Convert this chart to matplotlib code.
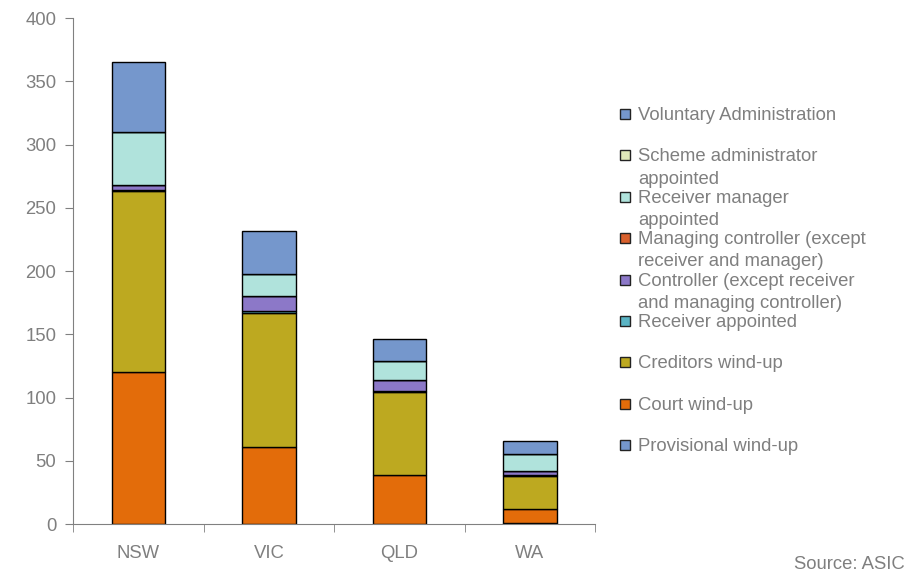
import numpy as np
import matplotlib.pyplot as plt
from matplotlib.patches import Rectangle

plt.rcParams['font.family'] = ['Liberation Sans', 'DejaVu Sans']

# Estados
states = ['NSW', 'VIC', 'QLD', 'WA']

# Series, de abajo hacia arriba en la pila
series = [
    'Provisional wind-up',
    'Court wind-up',
    'Creditors wind-up',
    'Receiver appointed',
    'Controller (except receiver\nand managing controller)',
    'Managing controller (except\nreceiver and manager)',
    'Receiver manager\nappointed',
    'Scheme administrator\nappointed',
    'Voluntary Administration',
]
provisional = [0, 0, 0, 1]
court = [120, 61, 39, 11]
creditors = [143, 106, 65, 26]
receiver = [1, 1, 1, 1]
controller = [4, 12, 9, 3]
managing = [0, 0, 0, 0]
receiver_mgr = [42, 18, 15, 13]
scheme = [0, 0, 0, 0]
voluntary = [55, 34, 17, 11]

values = [provisional, court, creditors, receiver, controller, managing,
          receiver_mgr, scheme, voluntary]
colors = ['#7597cc', '#e36c0a', '#bda920', '#5ab4c4', '#8c78c8', '#d9602c',
          '#b0e3dc', '#dfe8b8', '#7597cc']

fig = plt.figure(figsize=(9.13, 5.72), dpi=100)
ax = fig.add_axes([0.080, 0.0839, 0.572, 0.8846])

x = np.arange(len(states))
bottom = np.zeros(len(states))
for vals, col in zip(values, colors):
    vals = np.array(vals, dtype=float)
    ax.bar(x, vals, 0.41, bottom=bottom, color=col, edgecolor='black', linewidth=1)
    bottom += vals

grey = '#808080'
ax.set_xlim(-0.5, 3.5)
ax.set_ylim(0, 400)
ax.set_yticks(np.arange(0, 401, 50))
ax.set_xticks(x)
ax.set_xticklabels(states)
ax.set_xticks(np.arange(-0.5, 3.6, 1), minor=True)
ax.tick_params(axis='x', which='major', length=0, pad=15, labelsize=13.3, labelcolor='#7f7f7f')
ax.tick_params(axis='x', which='minor', length=6, color=grey, direction='out')
ax.tick_params(axis='y', length=6, color=grey, labelsize=13.3, labelcolor='#7f7f7f', pad=6)
for side in ['top', 'right']:
    ax.spines[side].set_visible(False)
for side in ['left', 'bottom']:
    ax.spines[side].set_color(grey)

# Leyenda manual (orden inverso a la pila)
W, H = 913, 572
for i, (lab, col) in enumerate(zip(series[::-1], colors[::-1])):
    yc = 114 + i * 41.4
    fig.patches.append(Rectangle((620 / W, 1 - (yc + 5) / H), 10 / W, 10 / H,
                                 transform=fig.transFigure, facecolor=col,
                                 edgecolor='#222222', linewidth=1))
    fig.text(638 / W, 1 - (yc - 7) / H, lab, fontsize=13.3, color='#7f7f7f',
             va='top', ha='left', linespacing=1.4)

fig.text(905 / W, 1 - 569 / H, 'Source: ASIC', fontsize=13.3, color='#7f7f7f',
         ha='right', va='baseline')

plt.savefig('out.png', dpi=100)
plt.close()
